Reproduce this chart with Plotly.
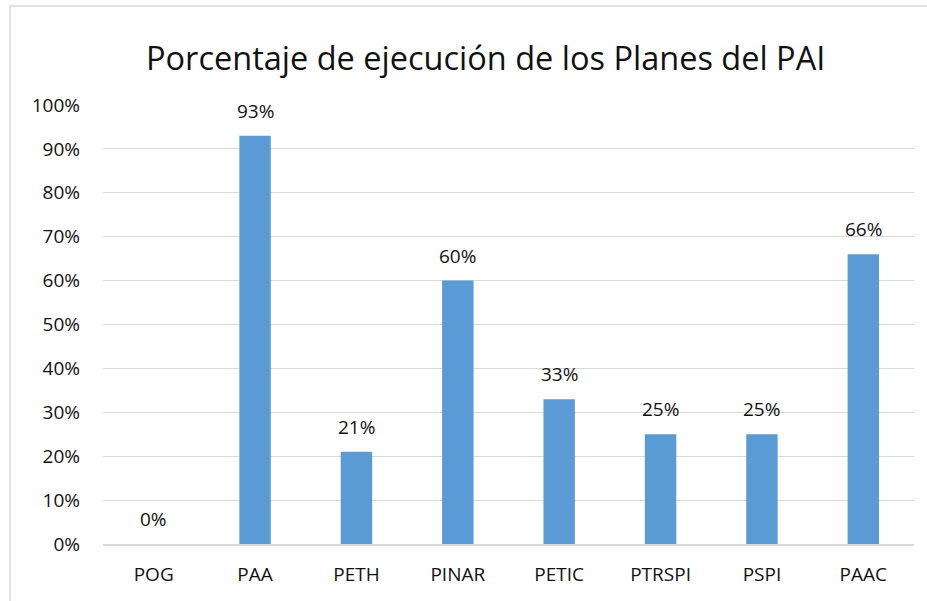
import plotly.graph_objects as go

categories = ["POG", "PAA", "PETH", "PINAR", "PETIC", "PTRSPI", "PSPI", "PAAC"]
values = [0.00, 0.93, 0.21, 0.60, 0.33, 0.25, 0.25, 0.66]
y_ticks = [0, 0.1, 0.2, 0.3, 0.4, 0.5, 0.6, 0.7, 0.8, 0.9, 1.0]
y_tick_labels = ["0%", "10%", "20%", "30%", "40%", "50%", "60%", "70%", "80%", "90%", "100%"]
title_text = "Porcentaje de ejecución de los Planes del PAI"

FONT = "Open Sans"
TXT = "#111111"

fig = go.Figure()
fig.add_trace(go.Bar(
    x=categories, y=values,
    marker=dict(color="#5B9BD5", line=dict(width=0)),
    hoverinfo="skip",
))

for c, v in zip(categories, values):
    fig.add_annotation(
        x=c, y=v, text=f"{round(v*100)}%", showarrow=False,
        yanchor="bottom", yshift=10,
        font=dict(family=FONT, size=19, color=TXT),
    )

fig.add_annotation(
    xref="paper", yref="paper", x=(485 - 103) / 811, y=1 + (105 - 57) / 439,
    text=title_text, showarrow=False, xanchor="center", yanchor="middle",
    font=dict(family=FONT, size=32.5, color=TXT),
)

fig.add_shape(
    type="rect", xref="paper", yref="paper",
    x0=(10 - 103) / 811, x1=(940 - 103) / 811,
    y0=(544 - 620) / 439, y1=1 + (105 - 6) / 439,
    line=dict(color="#d9d9d9", width=1.5), layer="below",
)

fig.update_layout(
    width=927, height=601,
    margin=dict(l=103, r=13, t=105, b=57),
    paper_bgcolor="white", plot_bgcolor="white",
    bargap=0.69, showlegend=False,
    font=dict(family=FONT, size=19, color=TXT),
)
fig.update_xaxes(
    showgrid=False, showline=True, linecolor="#d9d9d9", linewidth=1.5,
    ticks="", tickfont=dict(family=FONT, size=19, color=TXT), ticklabelstandoff=12,
)
fig.update_yaxes(
    range=[0, 1.0], tickvals=y_ticks, ticktext=y_tick_labels,
    showgrid=True, gridcolor="#d9d9d9", gridwidth=1.2, zeroline=False,
    showline=False, ticks="", tickfont=dict(family=FONT, size=19, color=TXT),
    ticklabelstandoff=22,
)

fig.write_html(
    "out.html",
    config={"displayModeBar": False},
    post_script="document.body.style.margin='0';document.body.style.overflow='hidden';",
)
